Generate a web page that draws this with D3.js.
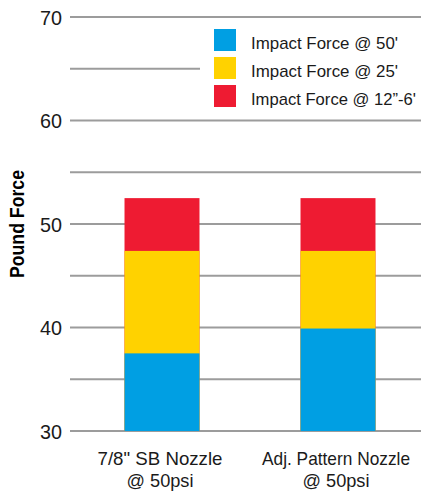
<!DOCTYPE html>
<html>
<head>
<meta charset="utf-8">
<script src="https://cdn.jsdelivr.net/npm/d3@7"></script>
<style>
  html, body { margin: 0; padding: 0; background: #fff; }
  svg { display: block; font-family: "Liberation Sans", Arial, sans-serif; }
</style>
</head>
<body>
<svg id="chart" width="425" height="495"></svg>
<script>
// Nozzle categories (two-line labels)
const categories = ["7/8\" SB Nozzle", "Adj. Pattern Nozzle"];
const categorySub = ["@ 50psi", "@ 50psi"];

// Impact force (lbs) measured at each distance
const series = ["Impact Force @ 50'", "Impact Force @ 25'", "Impact Force @ 12\u201D-6'"];
const force50 = [37.5, 39.9];
const force25 = [47.4, 47.4];
const force12 = [52.5, 52.5];
const seriesColors = ["#009fe3", "#ffd200", "#ee1b32"];

const yTicks = [30, 40, 50, 60, 70];
const yGrid = [30, 35, 40, 45, 50, 55, 60, 65, 70];

const svg = d3.select("#chart");

const y = d3.scaleLinear().domain([30, 70]).range([431, 17]);
const x = d3.scaleBand().domain(categories).range([74, 426])
  .paddingInner(0.574).paddingOuter(0.287);

// Gridlines
svg.append("g").selectAll("line").data(yGrid).join("line")
  .attr("x1", 70).attr("x2", 421)
  .attr("y1", d => y(d)).attr("y2", d => y(d))
  .attr("stroke", "#9c9c9c").attr("stroke-width", 2);

// Y tick labels
svg.append("g").selectAll("text").data(yTicks).join("text")
  .attr("x", 62).attr("y", d => y(d)).attr("dy", "0.36em")
  .attr("text-anchor", "end").attr("font-size", 21).attr("fill", "#1a1a1a")
  .attr("textLength", 22).attr("lengthAdjust", "spacingAndGlyphs")
  .text(d => d);

// Y axis title
svg.append("text")
  .attr("transform", "translate(24,224) rotate(-90)")
  .attr("text-anchor", "middle").attr("font-size", 20).attr("font-weight", "bold")
  .attr("textLength", 108).attr("lengthAdjust", "spacingAndGlyphs")
  .attr("fill", "#000").text("Pound Force");

// Legend panel
svg.append("rect").attr("x", 200).attr("y", 24).attr("width", 225).attr("height", 90)
  .attr("fill", "#fff");
const legend = svg.append("g");
const legendWidths = [147, 147, 165];
series.forEach((s, i) => {
  legend.append("rect").attr("x", 214).attr("y", 29 + i * 28)
    .attr("width", 22).attr("height", 22).attr("fill", seriesColors[i]);
  legend.append("text").attr("x", 251).attr("y", 48.5 + i * 28)
    .attr("font-size", 17).attr("fill", "#1a1a1a")
    .attr("textLength", legendWidths[i]).attr("lengthAdjust", "spacingAndGlyphs")
    .text(s);
});

// Bars: furthest-distance force drawn in front of the closer-range forces
const layers = [
  { values: force12, color: seriesColors[2] },
  { values: force25, color: seriesColors[1] },
  { values: force50, color: seriesColors[0] }
];
layers.forEach(layer => {
  svg.append("g").selectAll("rect").data(categories).join("rect")
    .attr("x", d => x(d))
    .attr("width", x.bandwidth())
    .attr("y", (d, i) => y(layer.values[i]))
    .attr("height", (d, i) => y(30) - y(layer.values[i]))
    .attr("fill", layer.color);
});

// Category labels
const labelWidths = [125, 148];
const lab = svg.append("g").attr("font-size", 19).attr("fill", "#1a1a1a")
  .attr("text-anchor", "middle");
categories.forEach((c, i) => {
  const cx = x(c) + x.bandwidth() / 2 - 2;
  lab.append("text").attr("x", cx).attr("y", 465)
    .attr("textLength", labelWidths[i]).attr("lengthAdjust", "spacingAndGlyphs").text(c);
  lab.append("text").attr("x", cx).attr("y", 487)
    .attr("textLength", 67).attr("lengthAdjust", "spacingAndGlyphs").text(categorySub[i]);
});
</script>
</body>
</html>
